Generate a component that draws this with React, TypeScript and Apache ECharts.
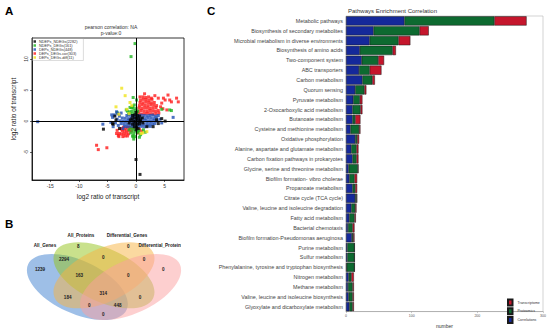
import React, { useEffect, useRef } from 'react';
import * as echarts from 'echarts';

// ---------- Panel A data (log2 ratio of transcript vs log2 ratio of protein) ----------
const scatterNames = [
  'NDEPs_NDEGs(2282)',
  'NDEPs_DEGs(161)',
  'DEPs_NDEGs(448)',
  'DEPs_DEGs-cor(303)',
  'DEPs_DEGs-diff(11)',
];
const scatterXTicks = [-15, -10, -5, 0, 5];
const scatterYTicks = [-5, 0, 5, 10];

const blackPts = [
  [-0.6, 0.9], [-0.2, 1.0], [0.2, 0.9], [0.6, 0.8], [-0.7, 0.4], [-0.3, 0.5], [0.1, 0.45], [0.5, 0.4],
  [0.8, 0.2], [-0.5, 0.0], [-0.1, -0.05], [0.3, 0.0], [0.7, -0.1], [-0.6, -0.5], [-0.2, -0.45], [0.2, -0.5],
  [0.6, -0.45], [-0.3, -0.9], [0.1, -0.95], [0.4, -1.2], [-1.0, 0.2], [1.1, 0.5], [1.2, -0.3], [-1.2, -0.3],
  [0.0, 1.4], [0.0, -1.4], [-5.7, -1.3], [-4.0, -0.5], [-3.5, 0.2], [-2.9, -1.2], [3.0, -0.9], [3.9, -0.4],
  [5.1, 0.0], [1.9, -0.9], [3.6, 0.2], [4.5, 0.4], [0.0, -6.2], [0.7, -8.6], [-3.7, 0.8], [-4.1, -0.4],
];
const greenPts = [
  [-0.9, 1.2], [-0.4, 1.2], [0.1, 1.3], [-0.7, 1.6], [-0.2, 1.7], [-1.1, 1.5], [-0.5, 2.1], [0.0, 2.0],
  [-0.8, 2.2], [-0.3, 2.6], [-1.3, 1.1], [-0.9, -1.1], [-0.4, -1.1], [0.1, -1.2], [-0.6, -1.5], [-0.1, -1.6],
  [-0.9, -1.9], [-0.4, -2.0], [0.2, -1.9], [-0.6, -2.4], [-0.1, -2.5], [-0.4, -2.9], [0.5, -1.5], [0.8, -2.2],
  [1.3, -1.4], [1.6, -1.8], [-0.17, 12.5], [-0.87, 10.4], [6.2, 1.7], [4.5, 1.9], [5.9, 1.8], [-0.5, 3.8],
  [-1.7, 1.8], [-3.3, 1.4], [-0.6, 2.3], [-1.5, 1.6], [0.1, 3.4], [-1.05, 2.2], [0.4, -1.7], [-0.5, -2.5],
  [0.3, 1.6], [-1.2, -1.4], [0.6, -2.6],
];
const bluePts = [
  [-1.6, 0.9], [-1.1, 0.95], [-0.6, 0.9], [-0.1, 0.85], [0.4, 0.9], [0.9, 0.95], [1.4, 0.9], [1.9, 0.85],
  [2.4, 0.9], [2.9, 0.95], [3.4, 0.8],
  [-2.4, 0.5], [-1.9, 0.45], [-1.4, 0.4], [-0.9, 0.5], [-0.4, 0.45], [0.1, 0.4], [0.6, 0.5], [1.1, 0.45],
  [1.6, 0.4], [2.1, 0.5], [2.6, 0.45], [3.1, 0.4], [3.6, 0.5],
  [-2.8, 0.05], [-2.3, 0.0], [-1.8, -0.05], [-1.3, 0.05], [-0.8, 0.0], [-0.3, -0.05], [0.2, 0.05], [0.7, 0.0],
  [1.2, -0.05], [1.7, 0.05], [2.2, 0.0], [2.7, -0.05], [3.2, 0.05], [3.7, 0.0],
  [-2.6, -0.4], [-2.1, -0.45], [-1.6, -0.5], [-1.1, -0.4], [-0.6, -0.45], [-0.1, -0.5], [0.4, -0.4], [0.9, -0.45],
  [1.4, -0.5], [1.9, -0.4], [2.4, -0.45], [2.9, -0.5], [3.3, -0.4],
  [-2.0, -0.85], [-1.5, -0.9], [-1.0, -0.8], [-0.5, -0.85], [0.0, -0.9], [0.5, -0.8], [1.0, -0.85], [1.5, -0.9],
  [2.0, -0.8], [2.5, -0.85],
  [-3.3, 0.3], [-3.6, -0.3], [-3.1, -0.7], [-4.1, 0.6], [-4.4, -0.2], [-3.8, 1.0], [-3.2, 1.2], [-2.6, 1.3],
  [-5.8, -0.5], [-17.2, -0.1], [6.5, 0.6], [4.2, 0.3], [4.5, -0.3], [-4.0, -0.9], [-2.3, -1.2], [3.9, 0.9],
  [-3.4, 1.5], [-4.25, 1.0], [-2.9, 0.8],
];
const redPts = [
  [0.5, 1.2], [1.0, 1.15], [1.5, 1.2], [2.0, 1.25], [2.5, 1.2], [3.0, 1.15], [3.5, 1.2], [4.0, 1.3],
  [0.4, 1.6], [0.9, 1.7], [1.4, 1.65], [1.9, 1.6], [2.4, 1.7], [2.9, 1.65], [3.4, 1.6], [3.9, 1.7],
  [0.5, 2.1], [1.0, 2.05], [1.5, 2.15], [2.0, 2.1], [2.5, 2.05], [3.0, 2.1], [3.5, 2.15],
  [0.6, 2.5], [1.1, 2.6], [1.6, 2.55], [2.1, 2.5], [2.6, 2.6], [3.1, 2.55], [3.6, 2.5],
  [0.7, 3.0], [1.2, 2.95], [1.7, 3.05], [2.2, 3.0], [2.7, 2.95], [3.2, 3.0],
  [0.8, 3.4], [1.3, 3.5], [1.8, 3.45], [2.3, 3.4], [2.8, 3.5],
  [1.2, 3.9], [1.7, 3.8], [2.2, 3.9], [0.7, 3.9],
  [3.9, 3.7], [5.1, 3.4], [7.1, 3.7], [6.2, 3.1], [5.6, 4.2], [4.5, 2.9], [4.8, 3.7], [5.9, 3.4],
  [7.4, 3.1], [5.4, 1.8], [4.3, 2.3], [4.7, 2.0], [3.3, 4.1], [1.5, 4.4], [2.7, 3.7],
  [-2.6, -1.2], [-2.2, -1.0], [-1.8, -1.1], [-1.4, -1.0], [-1.0, -1.05], [-0.6, -1.1], [-2.4, -1.6], [-2.0, -1.5],
  [-1.6, -1.55], [-1.2, -1.5], [-0.8, -1.6], [-2.9, -2.0], [-2.5, -2.1], [-2.1, -2.0], [-1.7, -1.95], [-1.3, -2.05],
  [-2.3, -2.5], [-1.9, -2.4], [-3.3, -1.5], [-3.0, -2.5], [-1.5, -2.4], [-3.4, -2.0], [-3.1, -2.3], [-2.5, -1.3],
  [-6.9, -3.9], [-6.6, -4.6], [-5.1, -4.3], [0.6, -1.3], [1.0, -1.6], [0.3, -1.9],
];
const yellowPts = [
  [-2.5, 5.3], [-1.9, 4.1], [-1.05, 3.0], [-3.5, 2.3], [-1.6, 1.9], [-1.2, 1.2], [-0.75, 2.5],
  [1.9, -1.7], [1.2, -1.9], [-3.0, 1.1], [0.9, -2.0],
];

// ---------- Panel B data (Venn) ----------
const vennSetNames = ['All_Genes', 'All_Proteins', 'Differential_Genes', 'Differential_Proteins'];
const vennCounts = [1239, 8, 0, 0, 2294, 0, 0, 163, 0, 314, 184, 0, 0, 448, 0];

// ---------- Panel C data ----------
const pathways = [
  'Metabolic pathways',
  'Biosynthesis of secondary metabolites',
  'Microbial metabolism in diverse environments',
  'Biosynthesis of amino acids',
  'Two-component system',
  'ABC transporters',
  'Carbon metabolism',
  'Quorum sensing',
  'Pyruvate metabolism',
  '2-Oxocarboxylic acid metabolism',
  'Butanoate metabolism',
  'Cysteine and methionine metabolism',
  'Oxidative phosphorylation',
  'Alanine, aspartate and glutamate metabolism',
  'Carbon fixation pathways in prokaryotes',
  'Glycine, serine and threonine metabolism',
  'Biofilm formation- vibro cholerae',
  'Propanoate metabolism',
  'Citrate cycle (TCA cycle)',
  'Valine, leucine and isoleucine degradation',
  'Fatty acid metabolism',
  'Bacterial chemotaxis',
  'Biofilm formation-Pseudomonas aeruginosa',
  'Purine metabolism',
  'Sulfur metabolism',
  'Phenylalanine, tyrosine and tryptophan biosynthesis',
  'Nitrogen metabolism',
  'Methane metabolism',
  'Valine, leucine and isoleucine biosynthesis',
  'Glyoxylate and dicarboxylate metabolism',
];
const correlations = [89, 42, 36, 21, 24, 20, 25, 14, 11, 10, 10, 7, 14, 8, 10, 4, 5, 10, 14, 8, 5, 3, 9, 2, 2, 1, 4, 3, 4, 5];
const proteomics = [137, 70, 44, 50, 25, 16, 15, 14, 10, 12, 4, 13, 3, 8, 6, 14, 8, 4, 2, 6, 8, 7, 2, 11, 11, 12, 4, 7, 6, 5];
const transcriptome = [49, 14, 18, 5, 9, 18, 4, 3, 4, 3, 8, 2, 3, 3, 3, 1, 4, 3, 1, 2, 2, 3, 2, 0, 0, 0, 4, 2, 2, 2];
const barXTicks = [0, 100, 200, 300];

const FONT = '"Liberation Sans", Arial, Helvetica, sans-serif';

export default function App() {
  const ref = useRef<HTMLDivElement>(null);

  useEffect(() => {
    if (!ref.current) return;
    const chart = echarts.init(ref.current, undefined, { renderer: 'svg' });

    // Venn layout (pixel positions, in the order of vennCounts)
    const countPos = [
      [40, 269], [78.3, 246.7], [128.3, 246.7], [163.3, 269.3], [64, 259.3], [103.3, 257.3],
      [144, 259.3], [79.3, 275.7], [128.3, 275.7], [103.3, 293.3], [67.7, 297.7], [140, 297.7],
      [89.3, 305], [117.7, 305.7], [103.3, 314.3],
    ];
    const setNamePos: any[] = [
      { x: 45, y: 245.7, align: 'center' },
      { x: 81, y: 235.7, align: 'center' },
      { x: 127, y: 235.7, align: 'center' },
      { x: 138.5, y: 245.7, align: 'left' },
    ];
    const rot = (24.7 * Math.PI) / 180;
    const ellipses = [
      { x: 77.4, y: 287, r: -rot, fill: '#3d7fd0' },
      { x: 104, y: 275.3, r: -rot, fill: '#93c41a' },
      { x: 104, y: 275.3, r: rot, fill: '#f7b341' },
      { x: 130.6, y: 287, r: rot, fill: '#fb9f9f' },
    ];

    const graphic: any[] = [];
    ellipses.forEach((e) =>
      graphic.push({
        type: 'ellipse',
        x: e.x,
        y: e.y,
        rotation: e.r,
        silent: true,
        shape: { cx: 0, cy: 0, rx: 54.2, ry: 26.5 },
        style: { fill: e.fill, opacity: 0.5 },
      })
    );
    vennCounts.forEach((c, i) =>
      graphic.push({
        type: 'text',
        x: countPos[i][0],
        y: countPos[i][1],
        silent: true,
        style: {
          text: String(c),
          fontSize: 4.6,
          fontWeight: 'bold',
          fontFamily: FONT,
          fill: '#222',
          textAlign: 'center',
          textVerticalAlign: 'middle',
        },
      })
    );
    vennSetNames.forEach((n, i) =>
      graphic.push({
        type: 'text',
        x: setNamePos[i].x,
        y: setNamePos[i].y,
        silent: true,
        style: {
          text: n,
          fontSize: 4.6,
          fontWeight: 'bold',
          fontFamily: FONT,
          fill: '#222',
          textAlign: setNamePos[i].align,
          textVerticalAlign: 'middle',
        },
      })
    );
    // clip of the cut label at the panel border
    graphic.push({
      type: 'rect',
      silent: true,
      shape: { x: 181, y: 240, width: 16, height: 11 },
      style: { fill: '#fff' },
    });
    // panel letters
    [['A', 5, 11], ['B', 5, 224], ['C', 207, 11]].forEach(([t, x, y]) =>
      graphic.push({
        type: 'text',
        x,
        y,
        silent: true,
        style: {
          text: t,
          fontSize: 11.5,
          fontWeight: 'bold',
          fontFamily: FONT,
          fill: '#000',
          textAlign: 'left',
          textVerticalAlign: 'middle',
        },
      })
    );
    // Panel A title
    graphic.push({
      type: 'text',
      x: 111,
      y: 30,
      silent: true,
      style: {
        text: 'pearson correlation: NA\np-value:0',
        fontSize: 5,
        lineHeight: 6,
        fontFamily: FONT,
        fill: '#333',
        textAlign: 'center',
        textVerticalAlign: 'middle',
      },
    });
    // Panel C title
    graphic.push({
      type: 'text',
      x: 348,
      y: 11,
      silent: true,
      style: {
        text: 'Pathways Enrichment Correlation',
        fontSize: 6,
        fontFamily: FONT,
        fill: '#333',
        textAlign: 'left',
        textVerticalAlign: 'middle',
      },
    });

    const scatterColors = ['#000000', '#1fb41f', '#1f4fb4', '#ff1a1a', '#f0e31c'];
    const scatterData = [blackPts, greenPts, bluePts, redPts, yellowPts];
    const scatterZ = [5, 3, 4, 2, 6];

    const scatterSeries: any[] = scatterNames.map((name, i) => ({
      name,
      type: 'scatter',
      xAxisIndex: 0,
      yAxisIndex: 0,
      data: scatterData[i],
      symbol: 'rect',
      symbolSize: 3,
      silent: true,
      z: scatterZ[i],
      itemStyle: { color: scatterColors[i] },
    }));
    scatterSeries.push({
      name: 'zeroLines',
      type: 'scatter',
      xAxisIndex: 0,
      yAxisIndex: 0,
      data: [],
      silent: true,
      z: 10,
      markLine: {
        silent: true,
        symbol: 'none',
        animation: false,
        label: { show: false },
        lineStyle: { color: '#000', width: 1, type: 'solid' },
        data: [{ xAxis: 0 }, { yAxis: 0 }],
      },
    });

    const barColors = { Correlations: '#15299a', Proteomics: '#0d6a30', Transcriptome: '#c5162c' };
    const barSeries: any[] = [
      ['Correlations', correlations],
      ['Proteomics', proteomics],
      ['Transcriptome', transcriptome],
    ].map(([name, vals]: any) => ({
      name,
      type: 'bar',
      stack: 'total',
      xAxisIndex: 1,
      yAxisIndex: 1,
      data: vals,
      barCategoryGap: '6%',
      silent: true,
      itemStyle: { color: (barColors as any)[name], borderColor: '#1a1a1a', borderWidth: 0.5 },
    }));

    const option: any = {
      animation: false,
      textStyle: { fontFamily: FONT },
      legend: [
        {
          data: scatterNames,
          orient: 'vertical',
          left: 32.5,
          top: 38.5,
          padding: [1, 6, 1, 1],
          itemWidth: 2.5,
          itemHeight: 2.5,
          itemGap: 0,
          icon: 'rect',
          borderColor: '#aaa',
          borderWidth: 0.4,
          selectedMode: false,
          textStyle: { fontSize: 3.8, lineHeight: 4, color: '#333', padding: [0, 0, 0, -2] },
        },
        {
          data: ['Transcriptome', 'Proteomics', 'Correlations'],
          orient: 'vertical',
          left: 507,
          top: 298.5,
          padding: 0,
          itemWidth: 4.5,
          itemHeight: 6,
          itemGap: 0.7,
          icon: 'rect',
          selectedMode: false,
          textStyle: { fontSize: 3.5, lineHeight: 6, color: '#333' },
        },
      ],
      grid: [
        {
          left: 32,
          right: 366,
          top: 38,
          bottom: 153,
          show: true,
          borderColor: '#000',
          borderWidth: 0.8,
          containLabel: false,
        },
        {
          left: 346,
          right: 7,
          top: 16,
          bottom: 14,
          show: true,
          borderColor: '#b5b5b5',
          borderWidth: 0.6,
          containLabel: false,
        },
      ],
      xAxis: [
        {
          type: 'value',
          gridIndex: 0,
          min: -18.2,
          max: 8.4,
          name: 'log2 ratio of transcript',
          nameLocation: 'middle',
          nameGap: 13,
          nameTextStyle: { fontSize: 6.5, color: '#222' },
          axisLine: { show: true, onZero: false, lineStyle: { color: '#000', width: 0.8 } },
          axisTick: { show: true, length: 2, customValues: scatterXTicks, lineStyle: { color: '#000', width: 0.6 } },
          axisLabel: { fontSize: 5, color: '#333', margin: 3, customValues: scatterXTicks },
          splitLine: { show: false },
        },
        {
          type: 'value',
          gridIndex: 1,
          min: 0,
          max: 300,
          interval: 100,
          name: 'number',
          nameLocation: 'middle',
          nameGap: 7.5,
          nameTextStyle: { fontSize: 5, color: '#333' },
          axisLine: { show: true, lineStyle: { color: '#999', width: 0.6 } },
          axisTick: { show: true, length: 1.5, lineStyle: { color: '#999', width: 0.5 } },
          axisLabel: { fontSize: 3.5, color: '#555', margin: 2.5, customValues: barXTicks },
          splitLine: { show: false },
        },
      ],
      yAxis: [
        {
          type: 'value',
          gridIndex: 0,
          min: -9.5,
          max: 13.4,
          name: 'log2 ratio of transcript',
          nameLocation: 'middle',
          nameGap: 15,
          nameTextStyle: { fontSize: 6.5, color: '#222' },
          axisLine: { show: true, onZero: false, lineStyle: { color: '#000', width: 0.8 } },
          axisTick: { show: true, length: 2, customValues: scatterYTicks, lineStyle: { color: '#000', width: 0.6 } },
          axisLabel: { fontSize: 5, color: '#333', margin: 4, rotate: 90, customValues: scatterYTicks },
          splitLine: { show: false },
        },
        {
          type: 'category',
          gridIndex: 1,
          data: pathways,
          inverse: true,
          axisLine: { show: false },
          axisTick: { show: false },
          axisLabel: { fontSize: 5.4, color: '#444', margin: 3 },
          splitLine: { show: false },
        },
      ],
      graphic,
      series: [...scatterSeries, ...barSeries],
    };

    chart.setOption(option);
    return () => chart.dispose();
  }, []);

  return (
    <div
      ref={ref}
      style={{ position: 'fixed', left: 0, top: 0, width: 550, height: 333, background: '#fff' }}
    />
  );
}
